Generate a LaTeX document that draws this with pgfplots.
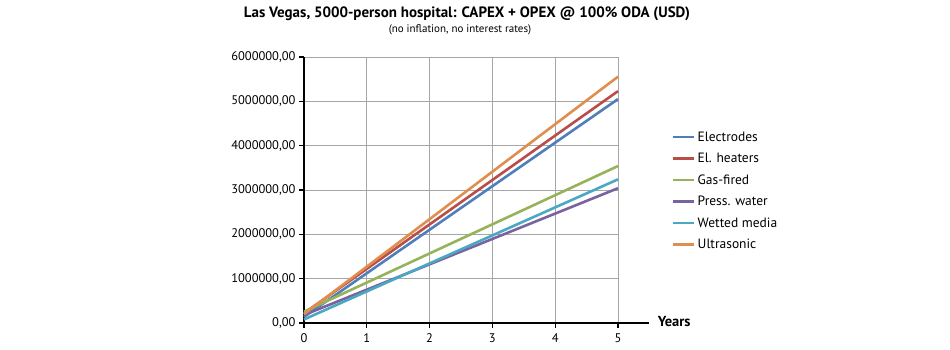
\documentclass[border=0pt]{standalone}
\usepackage{pgfplots}
\pgfplotsset{compat=1.18}
\usepackage{fontspec}
\setmainfont{PT Sans}
\definecolor{cblue}{HTML}{4F7FBA}
\definecolor{cred}{HTML}{B84D4A}
\definecolor{cgreen}{HTML}{96B35A}
\definecolor{cpurple}{HTML}{7A62A0}
\definecolor{ccyan}{HTML}{4BA8C2}
\definecolor{corange}{HTML}{E08E4E}
\begin{document}
\begin{tikzpicture}[x=1pt,y=1pt]
\path[use as bounding box] (0,0) rectangle (950,350);
\node[font=\bfseries\fontsize{15}{17}\selectfont] at (467,336) {Las Vegas, 5000-person hospital: CAPEX + OPEX @ 100\% ODA (USD)};
\node[font=\fontsize{11}{13}\selectfont] at (460,320) {(no inflation, no interest rates)};
\begin{axis}[
  at={(304pt,27pt)}, anchor=south west,
  scale only axis, width=314pt, height=266pt,
  xmin=0, xmax=5, ymin=0, ymax=6000000,
  xtick={0,1,2,3,4,5}, ytick={0,1000000,2000000,3000000,4000000,5000000,6000000},
  scaled y ticks=false,
  yticklabel style={/pgf/number format/.cd, fixed, fixed zerofill, precision=2, use comma, 1000 sep={}, assume math mode=true},
  xticklabel style={/pgf/number format/assume math mode=true, yshift=-2pt},
  ticklabel style={font=\fontsize{12.5}{14}\selectfont},
  axis x line*=bottom, axis y line*=left,
  axis line style={black, line width=2pt, -},
  tick style={black, line width=1.2pt},
  tick align=outside, major tick length=5pt,
  grid=major, grid style={gray!70, line width=0.8pt},
  legend style={at={(1.172,0.728)}, anchor=north west, draw=none, fill=none,
    font=\fontsize{13.5}{15}\selectfont, row sep=6.5pt, inner sep=0pt,
    /tikz/every even column/.append style={column sep=5pt}},
  legend cell align=left,
  legend image code/.code={\draw[#1, line width=2.5pt] (0pt,0pt) -- (21pt,0pt);},
  every axis plot/.append style={line width=2.6pt},
  clip=false,
]
\addplot[cblue] coordinates {(0,140000) (5,5050000)};
\addlegendentry{Electrodes}
\addplot[cred] coordinates {(0,220000) (5,5230000)};
\addlegendentry{El. heaters}
\addplot[cgreen] coordinates {(0,255000) (5,3540000)};
\addlegendentry{Gas-fired}
\addplot[cpurple] coordinates {(0,180000) (5,3040000)};
\addlegendentry{Press. water}
\addplot[ccyan] coordinates {(0,80000) (5,3240000)};
\addlegendentry{Wetted media}
\addplot[corange] coordinates {(0,200000) (5,5556000)};
\addlegendentry{Ultrasonic}
\draw[black, line width=2pt] (axis cs:0,0) -- (axis cs:5.5,0);
\node[font=\bfseries\fontsize{14.5}{16}\selectfont, anchor=west, inner sep=0pt] at (axis cs:5.63,40000) {Years};
\end{axis}
\end{tikzpicture}
\end{document}
